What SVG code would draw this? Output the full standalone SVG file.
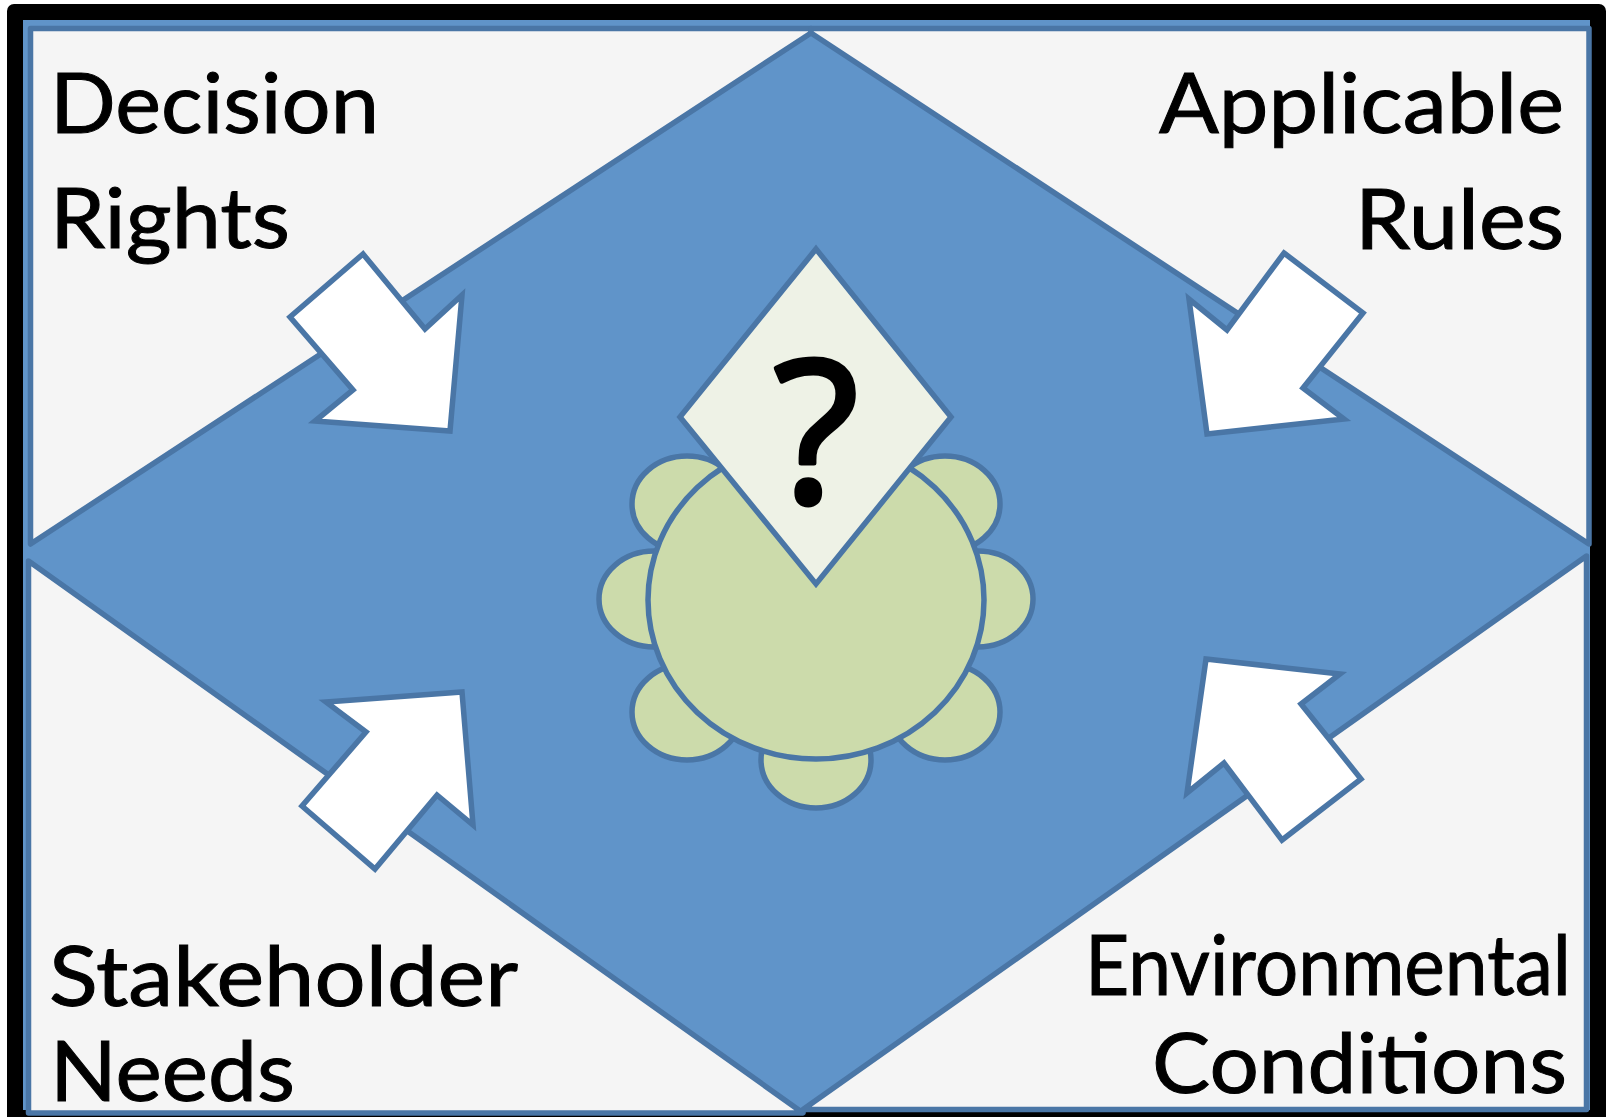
<svg xmlns="http://www.w3.org/2000/svg" width="1606" height="1117" viewBox="0 0 1606 1117">
<style>
.s{stroke:#4a76a6;stroke-width:5.5;stroke-linejoin:miter;stroke-miterlimit:12}
.r{stroke-linejoin:round}
.panel{fill:#f5f5f5}
.seat{fill:#ccdbab}
.arrow{fill:#fff}
text{font-family:"Lato","Open Sans","Liberation Sans",sans-serif;font-size:84px;fill:#000;stroke:#000;stroke-width:1}
</style>
<rect width="1606" height="1117" fill="#fff"/>
<rect id="frame" x="7" y="4" width="1599" height="1125" rx="7" fill="#000"/>
<rect id="field" x="23" y="20" width="1567" height="1090" fill="#6094c9"/>
<g id="panel-decision-rights">
<polygon class="s r panel" points="30.5,28.5 811,28.5 811,33 30.5,544"/>
<text x="50" y="133" textLength="329" lengthAdjust="spacingAndGlyphs">Decision</text>
<text x="50" y="248" textLength="240" lengthAdjust="spacingAndGlyphs">Rights</text>
</g>
<g id="panel-applicable-rules">
<polygon class="s r panel" points="811,33 811,28.5 1589,28.5 1589,544"/>
<text x="1159" y="133" textLength="405" lengthAdjust="spacingAndGlyphs">Applicable</text>
<text x="1355" y="249" textLength="209" lengthAdjust="spacingAndGlyphs">Rules</text>
</g>
<g id="panel-stakeholder-needs">
<polygon class="s r panel" points="28.5,561 803,1113 28.5,1113"/>
<text x="49" y="1006" textLength="469" lengthAdjust="spacingAndGlyphs">Stakeholder</text>
<text x="50" y="1101" textLength="245" lengthAdjust="spacingAndGlyphs">Needs</text>
</g>
<g id="panel-environmental-conditions">
<polygon class="s r panel" points="1586.5,556 803,1109.5 1586.5,1109.5"/>
<text x="1085" y="995" textLength="486" lengthAdjust="spacingAndGlyphs">Environmental</text>
<text x="1152" y="1093" textLength="415" lengthAdjust="spacingAndGlyphs">Conditions</text>
</g>
<g id="connectors">
<polygon class="s arrow" points="363,254 290,317 353,390 315,421 450,431 462,295 425,329"/>
<polygon class="s arrow" points="1284,253 1363,313 1303,388 1344,419 1207,434 1189,299 1227,330"/>
<polygon class="s arrow" points="326,702 462,692 473,825 437,795 375,869 302,806 366,732"/>
<polygon class="s arrow" points="1206,659 1340,674 1301,704 1361,779 1282,840 1224,763 1187,793"/>
</g>
<g id="table">
<g id="seats">
<ellipse class="s seat" cx="687" cy="504" rx="55" ry="48"/>
<ellipse class="s seat" cx="945" cy="504" rx="55" ry="48"/>
<ellipse class="s seat" cx="654" cy="599" rx="55" ry="48"/>
<ellipse class="s seat" cx="978" cy="599" rx="55" ry="48"/>
<ellipse class="s seat" cx="687" cy="712" rx="55" ry="48"/>
<ellipse class="s seat" cx="945" cy="712" rx="55" ry="48"/>
<ellipse class="s seat" cx="816" cy="760" rx="55" ry="48"/>
</g>
<ellipse id="table-top" class="s seat" cx="816" cy="600" rx="168" ry="159"/>
</g>
<g id="question">
<polygon class="s" fill="#eef2e6" points="816,249 951,417 816,584 680,417"/>
<text x="816" y="502" text-anchor="middle" style="font-family:'Open Sans','Lato',sans-serif;font-size:198px;stroke-width:5;stroke-linejoin:round">?</text>
</g>
</svg>
